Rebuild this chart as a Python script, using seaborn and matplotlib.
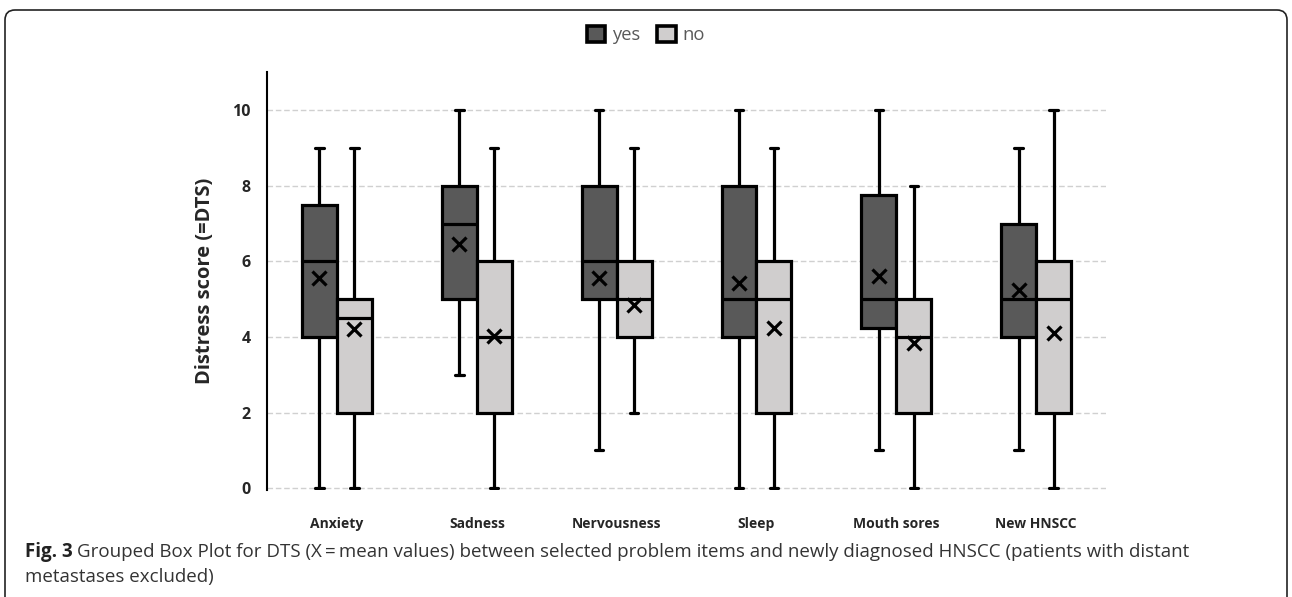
import matplotlib
matplotlib.use("Agg")
import matplotlib.pyplot as plt
import pandas as pd
import seaborn as sns
from matplotlib.patches import FancyBboxPatch

# five-number summaries: min, q1, median, q3, max
items = ["Anxiety", "Sadness", "Nervousness", "Sleep", "Mouth sores", "New HNSCC"]
groups = ["yes", "no"]
yes_stats = [
    [0, 4, 6, 7.5, 9],
    [3, 5, 7, 8, 10],
    [1, 5, 6, 8, 10],
    [0, 4, 5, 8, 10],
    [1, 4.25, 5, 7.75, 10],
    [1, 4, 5, 7, 9],
]
no_stats = [
    [0, 2, 4.5, 5, 9],
    [0, 2, 4, 6, 9],
    [2, 4, 5, 6, 9],
    [0, 2, 5, 6, 9],
    [0, 2, 4, 5, 8],
    [0, 2, 5, 6, 10],
]
yes_means = [5.55, 6.45, 5.57, 5.42, 5.62, 5.25]
no_means = [4.22, 4.03, 4.85, 4.25, 3.85, 4.1]

box_rows = []
mean_rows = []
for grp, stats, means in [("yes", yes_stats, yes_means), ("no", no_stats, no_means)]:
    for item, s, m in zip(items, stats, means):
        for v in s:
            box_rows.append({"item": item, "group": grp, "score": v})
        mean_rows.append({"item": item, "group": grp, "score": m})
box_df = pd.DataFrame(box_rows)
mean_df = pd.DataFrame(mean_rows)

sns.set_style("white")
plt.rcParams["font.family"] = ["Open Sans", "DejaVu Sans"]

fig = plt.figure(figsize=(12.92, 5.97), dpi=100)
ax = fig.add_axes([0.2067, 0.179, 0.6494, 0.7])

palette = {"yes": "#595959", "no": "#d0cece"}
sns.boxplot(data=box_df, x="item", y="score", hue="group", order=items,
            hue_order=groups, palette=palette, width=0.5, gap=0,
            whis=(0, 100), linecolor="black", linewidth=2.3,
            saturation=1, ax=ax)
sns.pointplot(data=mean_df, x="item", y="score", hue="group", order=items,
              hue_order=groups, palette={"yes": "black", "no": "black"},
              dodge=0.25, markers="x", linestyle="none", errorbar=None,
              markersize=10, markeredgewidth=2.3, legend=False, ax=ax)

# shrink whisker caps
for line in ax.lines:
    xd = line.get_xdata()
    yd = line.get_ydata()
    if len(xd) == 2 and yd[0] == yd[1] and abs(xd[1] - xd[0]) > 0.05 and abs(xd[1] - xd[0]) < 0.2:
        c = (xd[0] + xd[1]) / 2
        line.set_xdata([c - 0.03, c + 0.03])

ax.set_ylim(-0.05, 11)
ax.set_xlim(-0.5, 5.5)
ax.set_yticks(range(0, 11, 2))
ax.yaxis.grid(True, linestyle=(0, (4, 2)), color="#d0d0d0", linewidth=1)
ax.set_axisbelow(True)
for side in ["top", "right", "bottom"]:
    ax.spines[side].set_visible(False)
ax.spines["left"].set_color("black")
ax.spines["left"].set_linewidth(1.5)
ax.tick_params(axis="y", length=0, pad=12)
ax.tick_params(axis="x", length=0, pad=19)
ax.set_xlabel("")
ax.set_ylabel("Distress score (=DTS)", fontsize=14.5, fontweight="bold", labelpad=12)
for lab in ax.get_yticklabels():
    lab.set_fontweight("bold")
    lab.set_fontsize(11.5)
for lab in ax.get_xticklabels():
    lab.set_fontweight("bold")
    lab.set_fontsize(10)

leg = ax.legend(loc="center", bbox_to_anchor=(0.5, 0.941), bbox_transform=fig.transFigure,
                ncol=2, frameon=False, handlelength=1.0, handleheight=1.0,
                handletextpad=0.4, columnspacing=0.9, fontsize=13.2)
for t in leg.get_texts():
    t.set_color("#595959")
for h in leg.legend_handles:
    h.set_edgecolor("black")
    h.set_linewidth(2.6)

cap_y1 = 1 - 552 / 597
cap_y2 = 1 - 577 / 597
t1 = fig.text(0.019, cap_y1, "Fig. 3", fontsize=13.5, fontweight="bold", va="center",
              color="#222222")
fig.canvas.draw()
bb = t1.get_window_extent()
fig.text(bb.x1 / fig.bbox.width + 0.004, cap_y1,
         "Grouped Box Plot for DTS (X\u2009=\u2009mean values) between selected problem items "
         "and newly diagnosed HNSCC (patients with distant",
         fontsize=13.5, va="center", color="#333333")
fig.text(0.019, cap_y2, "metastases excluded)", fontsize=13.5, va="center", color="#333333")

frame = FancyBboxPatch((0.05, -0.5), 12.82, 6.37, boxstyle="round,pad=0,rounding_size=0.1",
                       transform=fig.dpi_scale_trans, fill=False, edgecolor="#222222",
                       linewidth=1.2)
fig.patches.append(frame)

fig.savefig("out.png", dpi=100)
